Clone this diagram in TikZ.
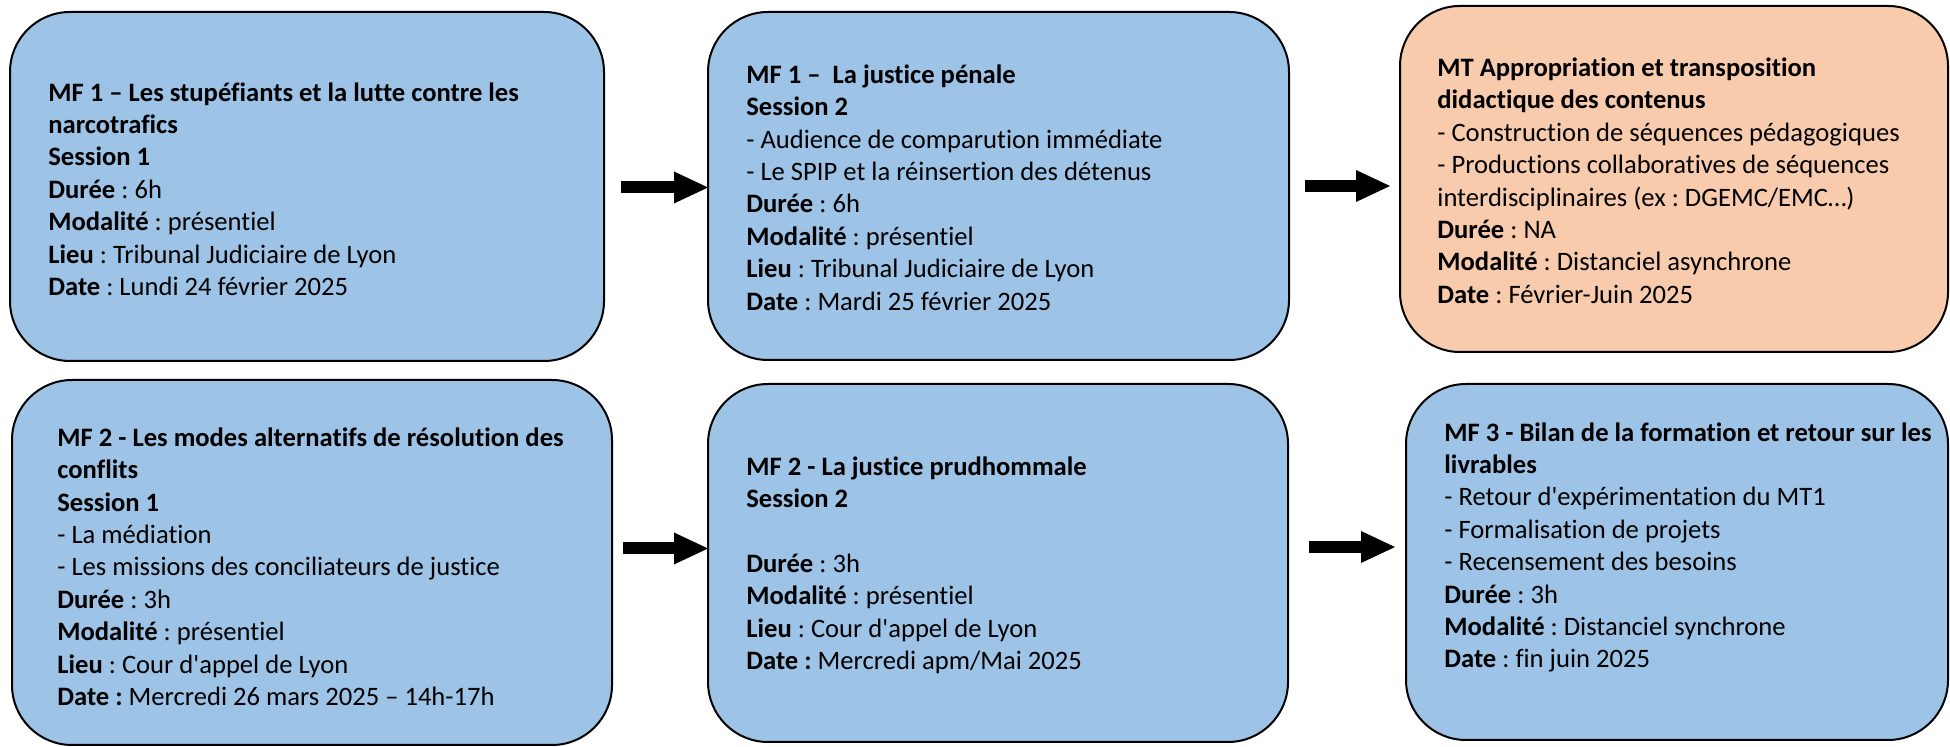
\documentclass[tikz,border=0pt]{standalone}
\usepackage{fontspec}
\newfontfamily\cb{Carlito}[Ligatures=CommonOff]
\usetikzlibrary{arrows.meta,calc}
\definecolor{boxblue}{HTML}{9DC3E6}
\definecolor{boxorange}{HTML}{F8CBAD}
\frenchspacing
\tikzset{
 box/.style={draw=black, line width=1pt, rounded corners=30pt, anchor=north west, inner sep=0pt, outer sep=0pt},
 txt/.style={anchor=west, align=left, inner sep=0pt, font=\cb\fontsize{13.3}{16.2}\selectfont\frenchspacing},
 bigarrow/.style={line width=6pt, -{Triangle[length=17pt,width=16pt,line width=0pt]}},
}
\begin{document}
\begin{tikzpicture}[x=0.5pt,y=-0.5pt]
\useasboundingbox (0,0) rectangle (1950,747);
% boxes
\node[box, fill=boxblue, minimum width=297pt, minimum height=174.5pt] (b1) at (10,12) {};
\node[box, fill=boxblue, minimum width=290.5pt, minimum height=174pt] (b2) at (708,12) {};
\node[box, fill=boxorange, minimum width=274pt, minimum height=173pt] (b3) at (1400,6) {};
\node[box, fill=boxblue, minimum width=300pt, minimum height=182.5pt] (b4) at (12,380) {};
\node[box, fill=boxblue, minimum width=290pt, minimum height=179pt] (b5) at (708,384) {};
\node[box, fill=boxblue, minimum width=271pt, minimum height=178pt] (b6) at (1406,384) {};
% texts
\node[txt] (t1) at (48,189) {\textbf{MF 1 – Les stupéfiants et la lutte contre les}\\
\textbf{narcotrafics}\\
\textbf{Session 1}\\
\textbf{Durée} : 6h\\
\textbf{Modalité} : présentiel\\
\textbf{Lieu} : Tribunal Judiciaire de Lyon\\
\textbf{Date} : Lundi 24 février 2025};
\node[txt] (t2) at (746,187.5) {\textbf{MF 1 –\ \ La justice pénale}\\
\textbf{Session 2}\\
- Audience de comparution immédiate\\
- Le SPIP et la réinsertion des détenus\\
\textbf{Durée} : 6h\\
\textbf{Modalité} : présentiel\\
\textbf{Lieu} : Tribunal Judiciaire de Lyon\\
\textbf{Date} : Mardi 25 février 2025};
\node[txt] (t3) at (1437,180.7) {\textbf{MT Appropriation et transposition}\\
\textbf{didactique des contenus}\\
- Construction de séquences pédagogiques\\
- Productions collaboratives de séquences\\
interdisciplinaires (ex : DGEMC/EMC…)\\
\textbf{Durée} : NA\\
\textbf{Modalité} : Distanciel asynchrone\\
\textbf{Date} : Février-Juin 2025};
\node[txt] (t4) at (57,566.7) {\textbf{MF 2 - Les modes alternatifs de résolution des}\\
\textbf{conflits}\\
\textbf{Session 1}\\
- La médiation\\
- Les missions des conciliateurs de justice\\
\textbf{Durée} : 3h\\
\textbf{Modalité} : présentiel\\
\textbf{Lieu} : Cour d'appel de Lyon\\
\textbf{Date :} Mercredi 26 mars 2025 – 14h-17h};
\node[txt] (t5) at (746,565.3) {\textbf{MF 2 - La justice prudhommale}\\
\textbf{Session 2}\\
\mbox{}\\
\textbf{Durée} : 3h\\
\textbf{Modalité} : présentiel\\
\textbf{Lieu} : Cour d'appel de Lyon\\
\textbf{Date :} Mercredi apm/Mai 2025};
\node[txt] (t6) at (1444,547.5) {\textbf{MF 3 - Bilan de la formation et retour sur les}\\
\textbf{livrables}\\
- Retour d'expérimentation du MT1\\
- Formalisation de projets\\
- Recensement des besoins\\
\textbf{Durée} : 3h\\
\textbf{Modalité} : Distanciel synchrone\\
\textbf{Date} : fin juin 2025};
% arrows
\coordinate (a1s) at ($(b1.east)+(17,1)$);
\draw[bigarrow] (a1s) -- (a1s -| b2.west);
\coordinate (a2s) at ($(b2.east)+(16,0)$);
\draw[bigarrow] (a2s) -- ($(a2s -| b3.west)+(-10,0)$);
\coordinate (a3s) at ($(b4.east)+(11,-14)$);
\draw[bigarrow] (a3s) -- (a3s -| b5.west);
\coordinate (a4s) at ($(b5.east)+(21,-16)$);
\draw[bigarrow] (a4s) -- ($(a4s -| b6.west)+(-11,0)$);
\end{tikzpicture}
\end{document}
